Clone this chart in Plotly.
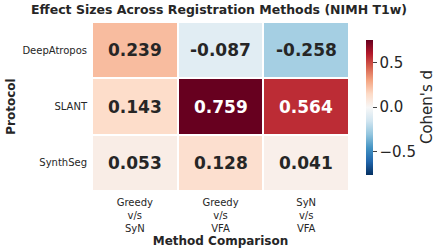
import plotly.graph_objects as go

protocols = ["DeepAtropos", "SLANT", "SynthSeg"]
comparisons = ["Greedy<br>v/s<br>SyN", "Greedy<br>v/s<br>VFA", "SyN<br>v/s<br>VFA"]
values = [
    [0.239, -0.087, -0.258],
    [0.143, 0.759, 0.564],
    [0.053, 0.128, 0.041],
]
cbar_ticks = [-0.5, 0.0, 0.5]

rdbu = ['rgb(103,0,31)', 'rgb(178,24,43)', 'rgb(214,96,77)', 'rgb(244,165,130)',
        'rgb(253,219,199)', 'rgb(247,247,247)', 'rgb(209,229,240)', 'rgb(146,197,222)',
        'rgb(67,147,195)', 'rgb(33,102,172)', 'rgb(5,48,97)']
rdbu_r = rdbu[::-1]
cscale = [[i / (len(rdbu_r) - 1), c] for i, c in enumerate(rdbu_r)]

vmax = max(abs(v) for row in values for v in row)
FONT = "DejaVu Sans"

fig = go.Figure(go.Heatmap(
    z=values, x=comparisons, y=protocols,
    colorscale=cscale, zmin=-vmax, zmax=vmax,
    xgap=2, ygap=2, hoverinfo="skip",
    colorbar=dict(
        thickness=7, len=135, lenmode="pixels", y=0.497, yanchor="middle",
        x=1.066, xanchor="left", xpad=0, ypad=0, outlinewidth=0,
        tickvals=cbar_ticks, tickformat=".1f", ticks="outside", ticklen=4,
        tickfont=dict(family=FONT, size=15, color="#262626"),
        title=dict(text="Cohen's d", side="right", font=dict(family=FONT, size=15, color="#262626")),
    ),
))

for i, p in enumerate(protocols):
    for j, c in enumerate(comparisons):
        v = values[i][j]
        fig.add_annotation(
            x=c, y=p, text=f"<b>{v:.3f}</b>", showarrow=False,
            font=dict(family=FONT, size=17, color="white" if abs(v) > 0.45 else "#262626"),
        )

fig.update_layout(
    width=438, height=250,
    margin=dict(l=92, r=89, t=22, b=59, autoexpand=False),
    paper_bgcolor="white", plot_bgcolor="white",
    title=dict(text="<b>Effect Sizes Across Registration Methods (NIMH T1w)</b>",
               x=0.5, xanchor="center", y=0.96, yanchor="middle",
               font=dict(family=FONT, size=12.5, color="#262626")),
    xaxis=dict(showgrid=False, zeroline=False, ticks="", ticklabelstandoff=4,
               automargin=False,
               tickfont=dict(family=FONT, size=10, color="#262626"),
               title=dict(text="<b>Method Comparison</b>", standoff=0,
                          font=dict(family=FONT, size=12, color="#262626"))),
    yaxis=dict(showgrid=False, zeroline=False, ticks="", autorange="reversed",
               ticklabelstandoff=4, automargin=False,
               tickfont=dict(family=FONT, size=10, color="#262626"),
               title=dict(text="<b>Protocol</b>", standoff=4,
                          font=dict(family=FONT, size=12, color="#262626"))),
)

fig.write_html("out.html", config={"displayModeBar": False},
               post_script="document.body.style.margin='0';")
